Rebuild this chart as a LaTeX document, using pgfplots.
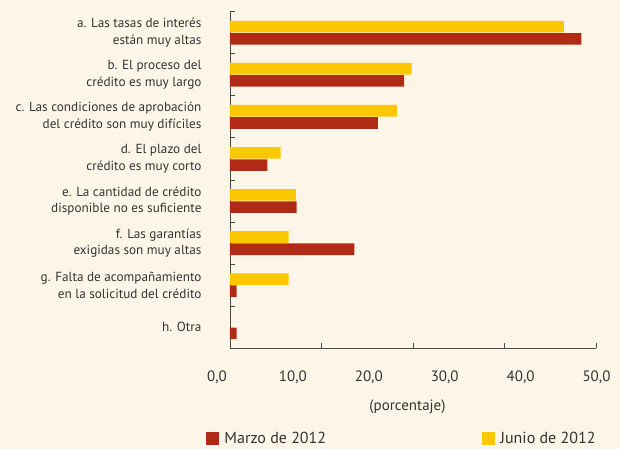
\documentclass[border=0pt]{standalone}
\usepackage{pgfplots}
\pgfplotsset{compat=1.18}
\usepackage{fontspec}
\setmainfont{PT Sans}
\definecolor{bg}{HTML}{FDF6E8}
\definecolor{rojo}{HTML}{B02A16}
\definecolor{amarillo}{HTML}{FBC800}
\definecolor{txt}{HTML}{333333}
\definecolor{axc}{HTML}{4A4A4A}
\begin{document}
\begin{tikzpicture}[x=1pt,y=1pt]
\fill[bg] (-230,-100.7) rectangle (390,348.3);
\useasboundingbox (-230,-100.7) rectangle (390,348.3);
\begin{axis}[
  at={(0,0)}, anchor=south west,
  scale only axis, width=366pt, height=336.6pt,
  xmin=0, xmax=50, ymin=-0.5, ymax=7.5, y dir=reverse,
  axis x line*=bottom, axis y line*=left,
  axis line style={axc, line width=0.9pt},
  xbar, bar width=11.6pt,
  tick align=inside,
  major tick length=0pt, minor tick length=5.5pt,
  every minor tick/.style={axc, line width=0.9pt},
  xtick={0,10,...,50},
  xticklabels={{0,0},{10,0},{20,0},{30,0},{40,0},{50,0}},
  minor xtick={12.5,25,37.5,50},
  ytick={0,...,7},
  minor ytick={-0.5,0.5,...,7.5},
  yticklabels={{a. Las tasas de interés\\están muy altas},
               {b. El proceso del\\crédito es muy largo},
               {c. Las condiciones de aprobación\\del crédito son muy difíciles},
               {d. El plazo del\\crédito es muy corto},
               {e. La cantidad de crédito\\disponible no es suficiente},
               {f. Las garantías\\exigidas son muy altas},
               {g. Falta de acompañamiento\\en la solicitud del crédito},
               {h. Otra}},
  yticklabel style={align=right, font=\fontsize{13.2}{16.7}\selectfont, text=txt, xshift=-25pt},
  xticklabel style={font=\fontsize{15}{18}\selectfont, text=txt, yshift=-18.5pt, xshift={\ticknum*2.7pt-13pt}},
  xlabel={(porcentaje)},
  xlabel style={font=\fontsize{15}{18}\selectfont, text=txt, at={(axis description cs:0.485,0)}, anchor=center, yshift=-58.4pt},
  legend columns=2,
  legend style={draw=none, fill=none, inner sep=0pt, font=\fontsize{16}{19}\selectfont, text=txt,
    at={(axis description cs:-0.0656,-0.2677)}, anchor=west,
    /tikz/every even column/.append style={column sep=154pt},
    /tikz/every odd column/.append style={column sep=3pt}},
  legend image code/.code={\fill[#1] (0pt,-6.6pt) rectangle (13.3pt,6.6pt);},
  reverse legend,
]
\addplot[fill=amarillo, draw=none, bar shift=6.1pt] coordinates {(45.6,0) (24.8,1) (22.8,2) (6.9,3) (9.0,4) (8.0,5) (8.0,6)};
\addlegendentry{Junio de 2012}
\addplot[fill=rojo, draw=none, bar shift=-6.1pt] coordinates {(48.0,0) (23.8,1) (20.2,2) (5.1,3) (9.1,4) (17.0,5) (0.9,6) (0.9,7)};
\addlegendentry{Marzo de 2012}
\end{axis}
\end{tikzpicture}
\end{document}
